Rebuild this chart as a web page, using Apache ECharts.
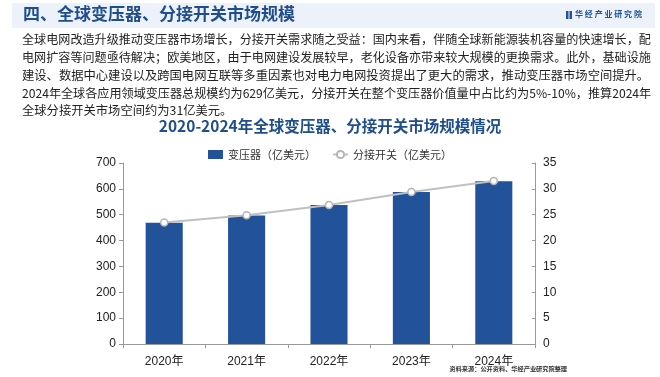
<!DOCTYPE html>
<html style="height: 100%">
<head>
    <meta charset="utf-8">
    <script src="https://cdn.jsdelivr.net/npm/echarts@6/dist/echarts.min.js"></script>
</head>
<body style="height: 100%; margin: 0; background: #fff">
<div id="container" style="width: 660px; height: 377px"></div>

<script type="text/javascript">
    // data
    var years = ['2020年', '2021年', '2022年', '2023年', '2024年'];
    var transformer = [469, 497, 538, 588, 629];      // 变压器（亿美元）
    var tapChanger = [23.5, 24.9, 26.9, 29.4, 31.5];  // 分接开关（亿美元）
    var leftTicks = {min: 0, max: 700, interval: 100};
    var rightTicks = {min: 0, max: 35, interval: 5};

    var paragraph = [
        '全球电网改造升级推动变压器市场增长，分接开关需求随之受益：国内来看，伴随全球新能源装机容量的快速增长，配',
        '电网扩容等问题亟待解决；欧美地区，由于电网建设发展较早，老化设备亦带来较大规模的更换需求。此外，基础设施',
        '建设、数据中心建设以及跨国电网互联等多重因素也对电力电网投资提出了更大的需求，推动变压器市场空间提升。',
        '2024年全球各应用领域变压器总规模约为629亿美元，分接开关在整个变压器价值量中占比约为5%-10%，推算2024年',
        '全球分接开关市场空间约为31亿美元。'
    ];

    var blue = '#22539a';
    var cjk = "'Noto Sans CJK SC', sans-serif";
    var num = "'Liberation Sans', 'Noto Sans CJK SC', sans-serif";

    // shrink a paragraph line so it fits the text column, like the justified original
    var ctx = document.createElement('canvas').getContext('2d');
    function fitSize(t, size, width) {
        ctx.font = size + 'px ' + cjk;
        var w = ctx.measureText(t).width;
        return w > width ? size * width / w : size;
    }

    var graphics = [
        {type: 'rect', left: 12, top: 3, shape: {width: 643, height: 25}, style: {fill: '#edf2fa'}, z: 0},
        {type: 'text', left: 23, top: 5, style: {text: '四、全球变压器、分接开关市场规模', fill: '#1f4e8c',
            font: 'bold 17px ' + cjk}},
        {type: 'rect', left: 566, top: 11, shape: {width: 2.5, height: 8}, style: {fill: blue}},
        {type: 'rect', left: 569.5, top: 11, shape: {width: 2.5, height: 8}, style: {fill: blue}},
        {type: 'text', left: 575, top: 10, style: {text: '华 经 产 业 研 究 院', fill: blue,
            font: 'bold 8px ' + cjk}},
        {type: 'text', right: 93, top: 366, style: {text: '资料来源：公开资料、华经产业研究院整理', fill: '#333',
            font: 'bold 6.2px ' + cjk}}
    ];
    var lineY = [33.5, 51, 69.5, 87, 104.5];
    paragraph.forEach(function (t, i) {
        var s = fitSize(t, 12.3, 629);
        graphics.push({type: 'text', left: 22, top: lineY[i] + (12.3 - s) / 2, style: {text: t, fill: '#222',
            font: s.toFixed(2) + 'px ' + cjk}});
    });

    var myChart = echarts.init(document.getElementById('container'));
    myChart.setOption({
        animation: false,
        title: {
            text: '2020-2024年全球变压器、分接开关市场规模情况',
            left: 'center',
            top: 113,
            textStyle: {color: '#1f4e8c', fontSize: 15.5, fontWeight: 'bold', fontFamily: cjk}
        },
        legend: {
            top: 144,
            left: 'center',
            itemGap: 16,
            itemWidth: 15,
            itemHeight: 9,
            textStyle: {color: '#333', fontSize: 11, fontFamily: cjk},
            data: [
                {name: '变压器（亿美元）', icon: 'rect'},
                {name: '分接开关（亿美元）'}
            ]
        },
        grid: {left: 123, right: 125, top: 163, bottom: 33},
        xAxis: {
            type: 'category',
            data: years,
            axisLine: {lineStyle: {color: '#999'}},
            axisTick: {show: true, length: 4, lineStyle: {color: '#999'}},
            axisLabel: {color: '#222', fontSize: 12, fontFamily: num, margin: 12}
        },
        yAxis: [
            {
                type: 'value',
                min: leftTicks.min, max: leftTicks.max, interval: leftTicks.interval,
                splitLine: {show: false},
                axisLine: {show: true, lineStyle: {color: '#999'}},
                axisTick: {show: true, length: 4, lineStyle: {color: '#999'}},
                axisLabel: {color: '#222', fontSize: 12, fontFamily: num, margin: 7}
            },
            {
                type: 'value',
                min: rightTicks.min, max: rightTicks.max, interval: rightTicks.interval,
                splitLine: {show: false},
                axisLine: {show: true, lineStyle: {color: '#999'}},
                axisTick: {show: true, inside: true, length: 3, lineStyle: {color: '#999'}},
                axisLabel: {color: '#222', fontSize: 12, fontFamily: num, margin: 8}
            }
        ],
        series: [
            {
                name: '变压器（亿美元）',
                type: 'bar',
                data: transformer,
                barWidth: '45%',
                itemStyle: {color: blue}
            },
            {
                name: '分接开关（亿美元）',
                type: 'line',
                yAxisIndex: 1,
                data: tapChanger,
                symbol: 'circle',
                symbolSize: 7,
                lineStyle: {color: '#c0c0c0', width: 2},
                itemStyle: {color: '#fff', borderColor: '#b5b5b5', borderWidth: 1.5}
            }
        ],
        graphic: graphics
    });
</script>
</body>
</html>
